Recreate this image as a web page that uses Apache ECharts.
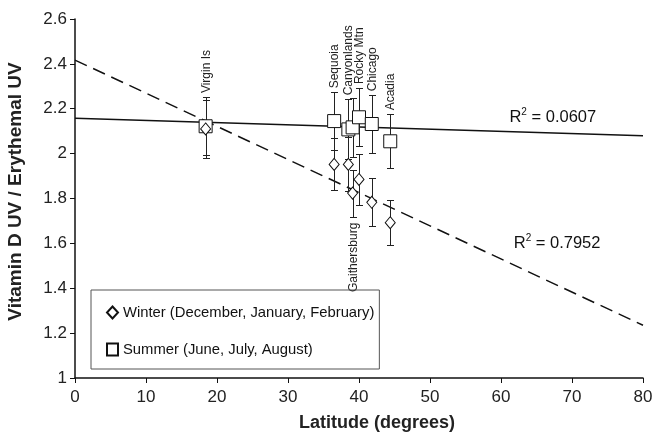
<!DOCTYPE html>
<html>
<head>
<meta charset="utf-8">
<script src="https://cdn.jsdelivr.net/npm/echarts@6/dist/echarts.min.js"></script>
<style>
html, body { margin: 0; padding: 0; background: #fff; }
#chart { width: 658px; height: 432px; }
</style>
</head>
<body>
<div id="chart"></div>
<script>
// 站点及纬度
var sites = ['Virgin Is', 'Sequoia', 'Canyonlands', 'Gaithersburg', 'Rocky Mtn', 'Chicago', 'Acadia'];
var labelSide = ['top', 'top', 'top', 'bottom', 'top', 'top', 'top'];
var latitude = [18.4, 36.5, 38.5, 39.1, 40.0, 41.8, 44.4];
// 冬季 / 夏季 比值及误差
var winterRatio = [2.11, 1.952, 1.952, 1.824, 1.885, 1.783, 1.692];
var winterErr = [0.13, 0.116, 0.12, 0.105, 0.113, 0.107, 0.10];
var summerRatio = [2.122, 2.145, 2.108, 2.117, 2.162, 2.132, 2.055];
var summerErr = [0.13, 0.128, 0.134, 0.13, 0.13, 0.128, 0.12];
// 趋势线端点
var trendLat = [0, 80];
var winterTrend = [2.417, 1.235];
var summerTrend = [2.158, 2.08];
var winterR2 = '0.7952';
var summerR2 = '0.0607';

var winterName = 'Winter (December, January, February)';
var summerName = 'Summer (June, July, August)';
var font = '"Liberation Sans", Arial, sans-serif';

var myChart = echarts.init(document.getElementById('chart'));

var barData = latitude.map(function(x, i) {
  return [x, winterRatio[i] - winterErr[i], winterRatio[i] + winterErr[i],
    summerRatio[i] - summerErr[i], summerRatio[i] + summerErr[i], i];
});

function renderBars(params, api) {
  var x = api.value(0);
  var children = [];
  var cap = 3.5;
  [[1, 2], [3, 4]].forEach(function(d) {
    var lo = api.coord([x, api.value(d[0])]);
    var hi = api.coord([x, api.value(d[1])]);
    var px = Math.round(lo[0]) + 0.5;
    var yl = Math.round(lo[1]) + 0.5;
    var yh = Math.round(hi[1]) + 0.5;
    var st = { stroke: '#222', lineWidth: 1 };
    children.push({ type: 'line', shape: { x1: px, y1: yl, x2: px, y2: yh }, style: st });
    children.push({ type: 'line', shape: { x1: px - cap, y1: yl, x2: px + cap, y2: yl }, style: st });
    children.push({ type: 'line', shape: { x1: px - cap, y1: yh, x2: px + cap, y2: yh }, style: st });
  });
  var i = api.value(5);
  var top = api.coord([x, Math.max(api.value(2), api.value(4))]);
  var bottom = api.coord([x, Math.min(api.value(1), api.value(3))]);
  var below = labelSide[i] === 'bottom';
  children.push({
    type: 'text',
    x: Math.round(top[0]) + 0.5,
    y: below ? bottom[1] + 6 : top[1] - 4,
    rotation: Math.PI / 2,
    style: {
      text: sites[i],
      align: below ? 'right' : 'left',
      verticalAlign: 'middle',
      font: '12px ' + font,
      fill: '#222'
    }
  });
  return { type: 'group', children: children };
}

function r2Label(val) {
  return '{t|R}{sup|2}{t| = ' + val + '}';
}

var r2Rich = {
  t: { fontSize: 16.5, fontFamily: font, color: '#111', lineHeight: 20 },
  sup: { fontSize: 10, fontFamily: font, color: '#111', verticalAlign: 'top', lineHeight: 20, padding: [0, 0, 9, 0] }
};

var options = {
  animation: false,
  grid: { left: 75, right: 15, top: 19, bottom: 54, outerBoundsMode: 'none', containLabel: false },
  legend: {
    data: [winterName, summerName],
    orient: 'vertical',
    left: 91,
    top: 290,
    padding: [15, 5, 12, 15],
    itemGap: 22,
    itemWidth: 11,
    itemHeight: 12,
    borderColor: '#555',
    borderWidth: 1,
    textStyle: { fontFamily: font, fontSize: 14.8, color: '#111' }
  },
  xAxis: {
    type: 'value',
    min: 0,
    max: 80,
    interval: 10,
    name: 'Latitude (degrees)',
    nameLocation: 'middle',
    nameGap: 36,
    nameTextStyle: { fontFamily: font, fontSize: 18, fontWeight: 'bold', color: '#222', padding: [0, 0, 0, 36] },
    axisLine: { lineStyle: { color: '#111', width: 1.5 } },
    axisTick: { length: 5, lineStyle: { color: '#111' } },
    axisLabel: { fontFamily: font, fontSize: 17, color: '#222', margin: 11 },
    splitLine: { show: false }
  },
  yAxis: {
    type: 'value',
    min: 1,
    max: 2.6,
    interval: 0.2,
    name: 'Vitamin D UV / Erythemal UV',
    nameLocation: 'middle',
    nameGap: 50,
    nameTextStyle: { fontFamily: font, fontSize: 19, fontWeight: 'bold', color: '#222', padding: [0, 0, 0, 14] },
    axisLine: { show: true, lineStyle: { color: '#111', width: 1.5 } },
    axisTick: { show: true, length: 5, lineStyle: { color: '#111' } },
    axisLabel: { fontFamily: font, fontSize: 17, color: '#222', margin: 8 },
    splitLine: { show: false }
  },
  series: [{
    name: 'summerTrend',
    type: 'line',
    data: trendLat.map(function(x, i) { return [x, summerTrend[i]]; }),
    symbol: 'none',
    lineStyle: { color: '#111', width: 1.5 },
    z: 1,
    markPoint: {
      symbolSize: 0,
      label: { show: true, formatter: r2Label(summerR2), rich: r2Rich },
      data: [{ coord: [67.3, 2.163] }]
    }
  }, {
    name: 'winterTrend',
    type: 'line',
    data: trendLat.map(function(x, i) { return [x, winterTrend[i]]; }),
    symbol: 'none',
    lineStyle: { color: '#111', width: 1.5, type: [13, 7] },
    z: 1,
    markPoint: {
      symbolSize: 0,
      label: { show: true, formatter: r2Label(winterR2), rich: r2Rich },
      data: [{ coord: [67.9, 1.6] }]
    }
  }, {
    name: 'errorBars',
    type: 'custom',
    renderItem: renderBars,
    data: barData,
    z: 2
  }, {
    name: summerName,
    type: 'scatter',
    data: latitude.map(function(x, i) { return [x, summerRatio[i]]; }),
    symbol: 'rect',
    symbolSize: 13,
    itemStyle: { color: '#fff', borderColor: '#111', borderWidth: 1, opacity: 1 },
    z: 3
  }, {
    name: winterName,
    type: 'scatter',
    data: latitude.map(function(x, i) { return [x, winterRatio[i]]; }),
    symbol: 'diamond',
    symbolSize: [10, 12],
    itemStyle: { color: '#fff', borderColor: '#111', borderWidth: 1, opacity: 1 },
    z: 4
  }]
};

myChart.setOption(options);
</script>
</body>
</html>
